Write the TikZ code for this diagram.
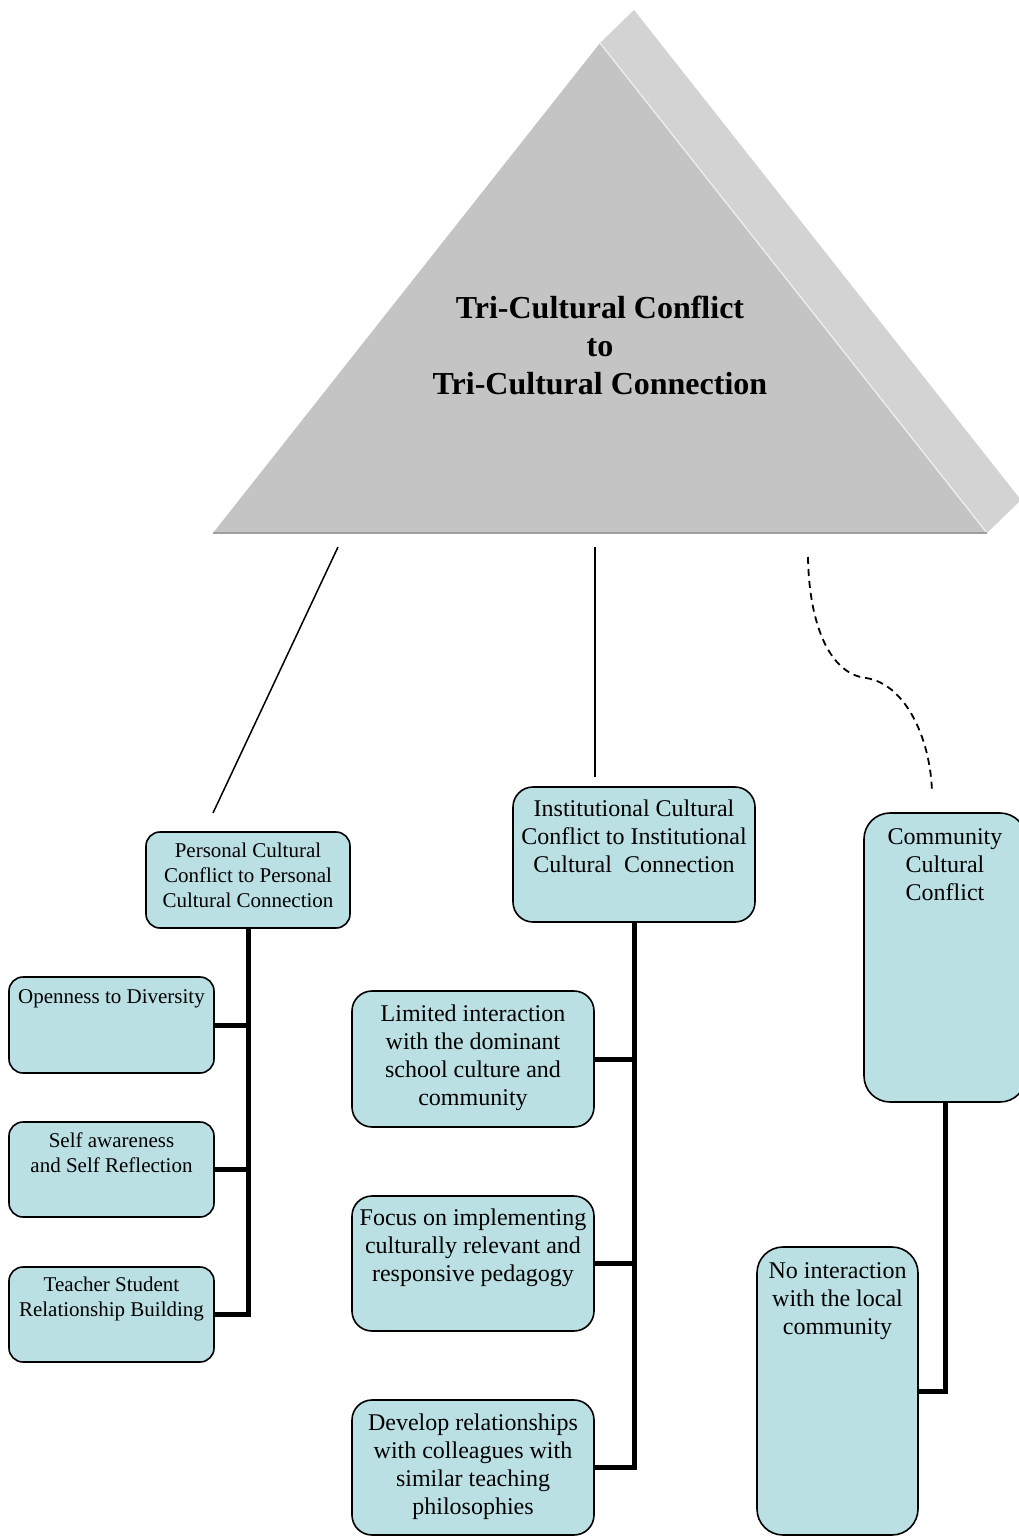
\documentclass[tikz,border=0pt]{standalone}
\usepackage{fontspec}
\setmainfont{Liberation Serif}
\definecolor{boxfill}{HTML}{BBE0E3}
\definecolor{frontgray}{HTML}{C4C4C4}
\definecolor{sidegray}{HTML}{D3D3D3}
\begin{document}
\begin{tikzpicture}[x=1pt,y=-1pt,
  box/.style={draw=black, line width=1.6pt, fill=boxfill, rounded corners=14pt, inner sep=0pt, outer sep=0pt},
  bigbox/.style={box, rounded corners=20pt},
  tallbox/.style={box, rounded corners=26pt},
  smalltxt/.style={inner sep=0pt, anchor=north, align=center, font=\fontsize{21}{25}\selectfont},
  bigtxt/.style={inner sep=0pt, anchor=north, align=center, font=\fontsize{24}{28}\selectfont},
  titletxt/.style={inner sep=0pt, anchor=north, align=center, font=\fontsize{32}{38}\selectfont\bfseries},
  trunk/.style={line width=5pt},
  link/.style={line width=1.5pt},
  dashlink/.style={line width=1.8pt, dash pattern=on 7pt off 5pt}]
\useasboundingbox (0,0) rectangle (1018,1537);

% triangle
\fill[sidegray] (600,43) -- (634,10) -- (1021,500) -- (987,533) -- cycle;
\fill[frontgray] (213,533) -- (987,533) -- (600,43) -- cycle;
\draw[line width=1.2pt, color=white!88!gray] (600,43) -- (987,533);
\draw[line width=1.5pt, color=gray!75] (213,533) -- (987,533);
\node[titletxt] (title) at (600,291.4) {\strut Tri-Cultural Conflict\\to\\Tri-Cultural Connection};

% connectors from triangle
\coordinate (t1) at (338,547);
\coordinate (e1) at (213,813);
\coordinate (t2) at (595,547);
\coordinate (e2) at (595,777);
\coordinate (t3) at (808,557);
\coordinate (m3) at (866,678);
\coordinate (e3) at (932,793);
\draw[link] (t1) -- (e1);
\draw[link] (t2) -- (e2);
\draw[dashlink] (t3) .. controls (809,625) and (830,674) .. (m3) .. controls (906,684) and (931,740) .. (e3);

% left column
\node[box, minimum width=204pt, minimum height=96pt] (pers) at (248,880) {};
\node[smalltxt] (perst) at (248,839.5) {\strut Personal Cultural\\Conflict to Personal\\Cultural Connection};
\node[box, minimum width=205pt, minimum height=96pt] (open) at (111.5,1025) {};
\node[smalltxt] (opent) at (111.5,985.5) {\strut Openness to Diversity};
\node[box, minimum width=205pt, minimum height=95pt] (self) at (111.5,1169.5) {};
\node[smalltxt] (selft) at (111.5,1129.5) {\strut Self awareness\\and Self Reflection};
\node[box, minimum width=205pt, minimum height=95pt] (teach) at (111.5,1314.5) {};
\node[smalltxt] (teacht) at (111.5,1273.5) {\strut Teacher Student\\Relationship Building};
\draw[trunk] (pers.south) |- (teach.east);
\draw[trunk] (open.east) -- (open.east -| pers.south);
\draw[trunk] (self.east) -- (self.east -| pers.south);

% middle column
\node[bigbox, minimum width=242pt, minimum height=135pt] (inst) at (634,854.5) {};
\node[bigtxt] (instt) at (634,796.4) {\strut Institutional Cultural\\Conflict to Institutional\\Cultural \ Connection};
\node[bigbox, minimum width=242pt, minimum height=136pt] (lim) at (473,1059) {};
\node[bigtxt] (limt) at (473,1001.4) {\strut Limited interaction\\with the dominant\\school culture and\\community};
\node[bigbox, minimum width=242pt, minimum height=135pt] (focus) at (473,1263.5) {};
\node[bigtxt] (focust) at (473,1205.4) {\strut Focus on implementing\\culturally relevant and\\responsive pedagogy};
\node[bigbox, minimum width=242pt, minimum height=135pt] (dev) at (473,1467.5) {};
\node[bigtxt] (devt) at (473,1410.4) {\strut Develop relationships\\with colleagues with\\similar teaching\\philosophies};
\draw[trunk] (inst.south) |- (dev.east);
\draw[trunk] (lim.east) -- (lim.east -| inst.south);
\draw[trunk] (focus.east) -- (focus.east -| inst.south);

% right column
\node[tallbox, minimum width=162pt, minimum height=289pt] (comm) at (945,957.5) {};
\node[bigtxt] (commt) at (945,824.4) {\strut Community\\Cultural\\Conflict};
\node[tallbox, minimum width=161pt, minimum height=288pt] (noint) at (837.5,1391) {};
\node[bigtxt] (nointt) at (837.5,1258.4) {\strut No interaction\\with the local\\community};
\draw[trunk] (comm.south) |- (noint.east);
\end{tikzpicture}
\end{document}
